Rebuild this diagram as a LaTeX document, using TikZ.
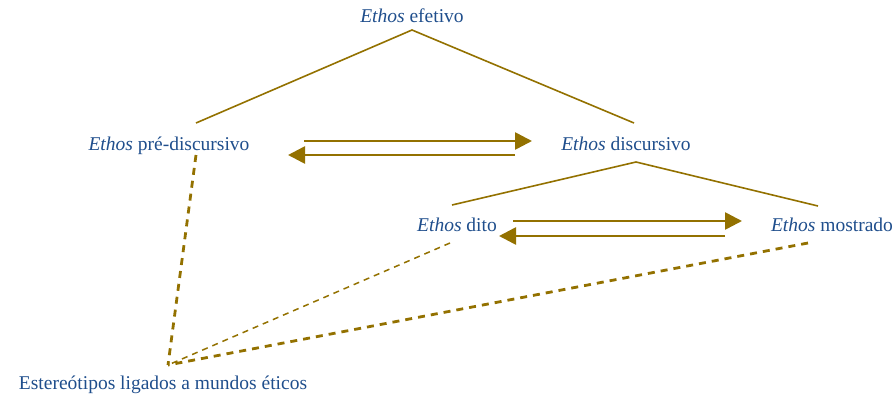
\documentclass[tikz,border=0pt]{standalone}
\usepackage{fontspec}
\setmainfont{Liberation Serif}
\usetikzlibrary{arrows.meta}
\definecolor{inkblue}{HTML}{1F4E8C}
\definecolor{gold}{HTML}{937100}
\begin{document}
\begin{tikzpicture}[x=1pt,y=-1pt,
  lbl/.style={text=inkblue,font=\fontsize{19.5}{22}\selectfont,inner sep=0pt,anchor=base},
  tree/.style={draw=gold,line width=1.6pt},
  flow/.style={draw=gold,line width=2.6pt,-{Triangle[length=17pt,width=17pt]}},
  thickdash/.style={draw=gold,line width=2.8pt,dash pattern=on 7pt off 6pt},
  thindash/.style={draw=gold,line width=1.5pt,dash pattern=on 6pt off 5pt}]
\useasboundingbox (0,0) rectangle (896,399);
% labels
\node[lbl] (efetivo) at (412,22) {\textit{Ethos} efetivo};
\node[lbl] (pre) at (169,150) {\textit{Ethos} pré-discursivo};
\node[lbl] (disc) at (626,150) {\textit{Ethos} discursivo};
\node[lbl] (dito) at (457,231) {\textit{Ethos} dito};
\node[lbl] (mostrado) at (832,231) {\textit{Ethos} mostrado};
\node[lbl] (estereo) at (163,389) {Estereótipos ligados a mundos éticos};
% attachment points
\coordinate (efTop) at (412,30);
\coordinate (preTop) at (196,123);
\coordinate (discTop) at (634,123);
\coordinate (discBot) at (636,162);
\coordinate (ditoTop) at (452,205);
\coordinate (mostTop) at (818,206);
\coordinate (preBot) at (196,155);
\coordinate (ditoBot) at (450,243);
\coordinate (mostBot) at (808,243);
\coordinate (base) at (168,365);
% hierarchy
\draw[tree] (preTop) -- (efTop) -- (discTop);
\draw[tree] (ditoTop) -- (discBot) -- (mostTop);
% exchanges
\coordinate (a1) at (304,141); \coordinate (a2) at (532,141);
\coordinate (b1) at (515,155); \coordinate (b2) at (288,155);
\draw[flow] (a1) -- (a2);
\draw[flow] (b1) -- (b2);
\coordinate (c1) at (513,221); \coordinate (c2) at (742,221);
\coordinate (d1) at (725,236); \coordinate (d2) at (499,236);
\draw[flow] (c1) -- (c2);
\draw[flow] (d1) -- (d2);
% links to stereotypes
\draw[thickdash] (preBot) -- (base);
\draw[thindash] (ditoBot) -- (base);
\draw[thickdash] (mostBot) -- (base);
\end{tikzpicture}
\end{document}
